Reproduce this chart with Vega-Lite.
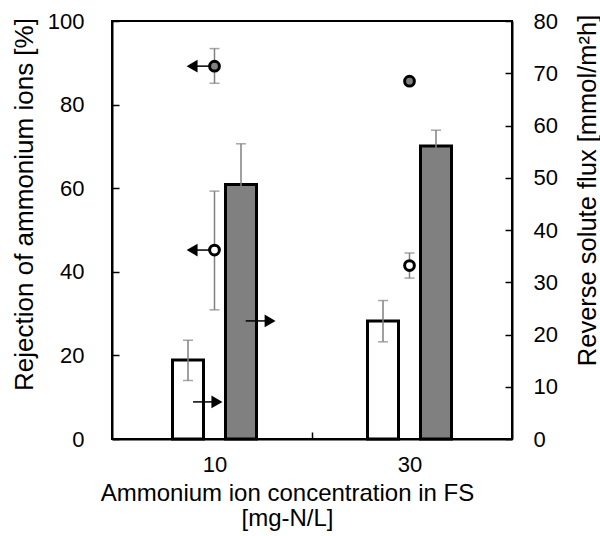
{
  "$schema": "https://vega.github.io/schema/vega-lite/v6.json",
  "width": 400,
  "height": 418,
  "autosize": {"type": "none"},
  "padding": {"left": 112, "top": 21, "right": 88, "bottom": 97},
  "background": "white",
  "config": {
    "view": {"stroke": "black", "strokeWidth": 2},
    "axis": {
      "grid": false,
      "domainColor": "black",
      "domainWidth": 2,
      "tickColor": "black",
      "tickWidth": 1.5,
      "tickSize": -7,
      "labelFont": "Liberation Sans",
      "labelFontSize": 22,
      "labelColor": "black",
      "titleFont": "Liberation Sans",
      "titleFontSize": 24,
      "titleFontWeight": "normal",
      "titleColor": "black"
    }
  },
  "datasets": {
    "flux": [
      {"conc": 10, "series": "S1", "value": 15.1, "lo": 11.2, "hi": 18.9},
      {"conc": 10, "series": "S2", "value": 48.7, "lo": 41.0, "hi": 56.5},
      {"conc": 30, "series": "S1", "value": 22.6, "lo": 18.6, "hi": 26.5},
      {"conc": 30, "series": "S2", "value": 56.1, "lo": 53.1, "hi": 59.1}
    ],
    "rejection": [
      {"conc": 10, "series": "S1", "value": 45.2, "lo": 30.9, "hi": 59.3},
      {"conc": 10, "series": "S2", "value": 89.2, "lo": 85.1, "hi": 93.4},
      {"conc": 30, "series": "S1", "value": 41.5, "lo": 38.5, "hi": 44.5},
      {"conc": 30, "series": "S2", "value": 85.6, "lo": 85.6, "hi": 85.6}
    ],
    "arrowsLeft": [
      {"x": 10, "xhead": 7.7, "y": 89.2},
      {"x": 10, "xhead": 7.7, "y": 45.2}
    ],
    "arrowsRight": [
      {"x": 7.8, "xhead": 10.25, "y": 7.1},
      {"x": 13.2, "xhead": 15.7, "y": 22.6}
    ]
  },
  "layer": [
    {
      "layer": [
        {
          "data": {"name": "flux"},
          "transform": [{"filter": "datum.series == 'S1'"}],
          "mark": {"type": "bar", "orient": "vertical", "width": 31, "xOffset": -26.5, "fill": "white", "stroke": "black", "strokeWidth": 3},
          "encoding": {
            "x": {
              "field": "conc", "type": "quantitative",
              "scale": {"domain": [0, 40], "nice": false},
              "axis": {
                "values": [10, 20, 30],
                "labelExpr": "datum.value == 20 ? '' : datum.label",
                "tickOpacity": {"condition": {"test": "datum.value == 20", "value": 1}, "value": 0},
                "labelPadding": 22,
                "title": ["Ammonium ion concentration in FS", "[mg-N/L]"],
                "titleX": 175,
                "titleY": 61,
                "titleBaseline": "alphabetic",
                "titleLineHeight": 25,
                "titleAnchor": null
              }
            },
            "y": {
              "field": "value", "type": "quantitative", "stack": null,
              "scale": {"domain": [0, 80], "nice": false},
              "axis": {
                "orient": "right",
                "values": [0, 10, 20, 30, 40, 50, 60, 70, 80],
                "labelPadding": 28,
                "title": "Reverse solute flux [mmol/m²h]",
                "titleFontSize": 25.5,
                "titleAngle": 270,
                "titleX": 83,
                "titleY": 169,
                "titleAlign": "center",
                "titleBaseline": "alphabetic"
              }
            }
          }
        },
        {
          "data": {"name": "flux"},
          "transform": [{"filter": "datum.series == 'S2'"}],
          "mark": {"type": "bar", "orient": "vertical", "width": 31, "xOffset": 26.5, "fill": "#808080", "stroke": "black", "strokeWidth": 3},
          "encoding": {
            "x": {"field": "conc", "type": "quantitative"},
            "y": {"field": "value", "type": "quantitative", "stack": null}
          }
        },
        {
          "data": {"name": "flux"},
          "transform": [{"filter": "datum.series == 'S1'"}],
          "mark": {"type": "rule", "xOffset": -26.5, "color": "#808080", "strokeWidth": 1.5},
          "encoding": {
            "x": {"field": "conc", "type": "quantitative"},
            "y": {"field": "lo", "type": "quantitative"},
            "y2": {"field": "hi"}
          }
        },
        {
          "data": {"name": "flux"},
          "transform": [{"filter": "datum.series == 'S1'"}, {"fold": ["lo", "hi"], "as": ["end", "v"]}],
          "mark": {"type": "tick", "orient": "horizontal", "xOffset": -26.5, "color": "#808080", "size": 10, "thickness": 1.5},
          "encoding": {
            "x": {"field": "conc", "type": "quantitative"},
            "y": {"field": "v", "type": "quantitative"}
          }
        },
        {
          "data": {"name": "flux"},
          "transform": [{"filter": "datum.series == 'S2'"}],
          "mark": {"type": "rule", "xOffset": 26.5, "color": "#808080", "strokeWidth": 1.5},
          "encoding": {
            "x": {"field": "conc", "type": "quantitative"},
            "y": {"field": "lo", "type": "quantitative"},
            "y2": {"field": "hi"}
          }
        },
        {
          "data": {"name": "flux"},
          "transform": [{"filter": "datum.series == 'S2'"}, {"fold": ["lo", "hi"], "as": ["end", "v"]}],
          "mark": {"type": "tick", "orient": "horizontal", "xOffset": 26.5, "color": "#808080", "size": 10, "thickness": 1.5},
          "encoding": {
            "x": {"field": "conc", "type": "quantitative"},
            "y": {"field": "v", "type": "quantitative"}
          }
        },
        {
          "data": {"name": "arrowsRight"},
          "mark": {"type": "rule", "color": "black", "strokeWidth": 1.5},
          "encoding": {
            "x": {"field": "x", "type": "quantitative"},
            "x2": {"field": "xhead"},
            "y": {"field": "y", "type": "quantitative"}
          }
        },
        {
          "data": {"name": "arrowsRight"},
          "mark": {"type": "point", "shape": "triangle-right", "filled": true, "color": "black", "size": 160, "opacity": 1},
          "encoding": {
            "x": {"field": "xhead", "type": "quantitative"},
            "y": {"field": "y", "type": "quantitative"}
          }
        }
      ]
    },
    {
      "layer": [
        {
          "data": {"name": "rejection"},
          "mark": {"type": "rule", "color": "#808080", "strokeWidth": 1.5},
          "encoding": {
            "x": {"field": "conc", "type": "quantitative"},
            "y": {
              "field": "lo", "type": "quantitative",
              "scale": {"domain": [0, 100], "nice": false},
              "axis": {
                "orient": "left",
                "values": [0, 20, 40, 60, 80, 100],
                "labelPadding": 35,
                "title": "Rejection of ammonium ions [%]",
                "titleFontSize": 26,
                "titleAngle": 270,
                "titleX": -80,
                "titleY": 183,
                "titleAlign": "center",
                "titleBaseline": "alphabetic"
              }
            },
            "y2": {"field": "hi"}
          }
        },
        {
          "data": {"name": "rejection"},
          "transform": [{"fold": ["lo", "hi"], "as": ["end", "v"]}],
          "mark": {"type": "tick", "orient": "horizontal", "color": "#808080", "size": 10, "thickness": 1.5},
          "encoding": {
            "x": {"field": "conc", "type": "quantitative"},
            "y": {"field": "v", "type": "quantitative"}
          }
        },
        {
          "data": {"name": "arrowsLeft"},
          "mark": {"type": "rule", "color": "black", "strokeWidth": 1.5},
          "encoding": {
            "x": {"field": "x", "type": "quantitative"},
            "x2": {"field": "xhead"},
            "y": {"field": "y", "type": "quantitative"}
          }
        },
        {
          "data": {"name": "arrowsLeft"},
          "mark": {"type": "point", "shape": "triangle-left", "filled": true, "color": "black", "size": 160, "opacity": 1},
          "encoding": {
            "x": {"field": "xhead", "type": "quantitative"},
            "y": {"field": "y", "type": "quantitative"}
          }
        },
        {
          "data": {"name": "rejection"},
          "mark": {"type": "point", "shape": "circle", "size": 95, "stroke": "black", "strokeWidth": 3, "opacity": 1, "filled": true},
          "encoding": {
            "x": {"field": "conc", "type": "quantitative"},
            "y": {"field": "value", "type": "quantitative"},
            "fill": {"field": "series", "type": "nominal", "scale": {"domain": ["S1", "S2"], "range": ["white", "#808080"]}, "legend": null}
          }
        }
      ]
    }
  ],
  "resolve": {"scale": {"y": "independent"}}
}
